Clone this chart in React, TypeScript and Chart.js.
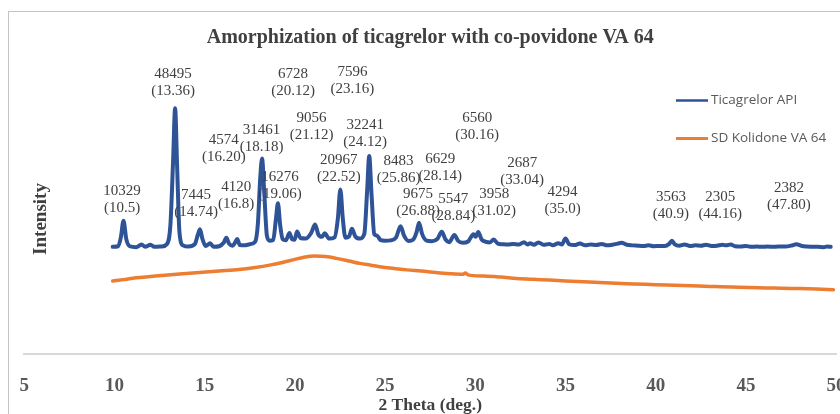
import { useEffect, useRef } from "react";
import { Chart, registerables } from "chart.js";

Chart.register(...registerables);

const TITLE = "Amorphization of ticagrelor with co-povidone VA 64";
const X_TITLE = "2 Theta (deg.)";
const Y_TITLE = "Intensity";
const SERIES_NAMES = ["Ticagrelor API", "SD Kolidone VA 64"];
const X_MIN = 5;
const X_MAX = 50;
const X_STEP = 5;

// Ticagrelor API diffractogram: 2θ (deg.) and counts
const API_ANGLES = [
  9.9, 10.2, 10.35, 10.5, 10.65, 10.85, 11.2, 11.5, 11.7, 12.0, 12.2, 12.6, 12.9, 13.1, 13.25, 13.36,
  13.47, 13.6, 13.8, 14.1, 14.45, 14.62, 14.74, 14.87, 15.05, 15.3, 15.5, 15.8, 16.05, 16.2, 16.35,
  16.55, 16.68, 16.8, 16.95, 17.2, 17.5, 17.8, 17.95, 18.08, 18.18, 18.3, 18.45, 18.6, 18.8, 18.95,
  19.06, 19.18, 19.32, 19.5, 19.7, 19.85, 19.98, 20.12, 20.3, 20.6, 20.9, 21.12, 21.3, 21.5, 21.65,
  21.9, 22.2, 22.38, 22.52, 22.65, 22.8, 23.0, 23.16, 23.35, 23.6, 23.85, 24.0, 24.12, 24.25, 24.4,
  24.55, 24.75, 25.0, 25.3, 25.6, 25.86, 26.05, 26.3, 26.55, 26.75, 26.88, 27.05, 27.3, 27.6, 27.9,
  28.14, 28.35, 28.55, 28.84, 29.05, 29.3, 29.6, 29.9, 30.02, 30.16, 30.35, 30.6, 30.8, 31.02, 31.25,
  31.5, 31.8, 32.1, 32.4, 32.7, 32.9, 33.04, 33.25, 33.5, 33.8, 34.1, 34.3, 34.6, 34.8, 35.0, 35.2,
  35.5, 35.8, 36.1, 36.4, 36.7, 37.0, 37.3, 37.6, 37.9, 38.1, 38.4, 38.7, 39.0, 39.3, 39.6, 39.9,
  40.2, 40.5, 40.75, 40.9, 41.05, 41.3, 41.6, 41.9, 42.2, 42.5, 42.8, 43.1, 43.4, 43.7, 43.9, 44.16,
  44.4, 44.7, 45.0, 45.3, 45.6, 45.9, 46.2, 46.5, 46.8, 47.2, 47.5, 47.8, 48.1, 48.4, 48.7, 49.0,
  49.3, 49.5, 49.7,
];
const API_COUNTS = [
  1500, 1700, 4600, 10329, 4200, 1700, 1400, 2300, 1500, 2200, 1500, 1600, 2400, 9000, 31000, 48495,
  29000, 6500, 2000, 1600, 2400, 5600, 7445, 4300, 1800, 2700, 1500, 1700, 2900, 4574, 2600,
  1900, 2900, 4120, 2100, 2000, 2400, 3300, 9500, 25000, 31461, 20000, 5200, 3600, 3900, 11000,
  16276, 9000, 4100, 3700, 6200, 4000, 3900, 6728, 4500, 4300, 6200, 9056, 5700, 4900, 6100,
  4300, 4700, 11000, 20967, 11500, 4600, 5000, 7596, 5000, 4300, 6000, 20000, 32241, 19000, 5800,
  5300, 3800, 3600, 3700, 4600, 8483, 5300, 3500, 3900, 6600, 9675, 5900, 3600, 3400, 4200,
  6629, 4000, 3100, 5547, 3500, 2900, 3300, 5800, 4900, 6560, 4000, 3200, 3000, 3958, 2600,
  2400, 2300, 2500, 2300, 3100, 2300, 2687, 2200, 3000, 2200, 2500, 2000, 2700, 2300, 4294, 2400,
  2100, 2600, 2000, 2300, 2100, 2500, 2000, 2200, 2600, 2900, 2200, 2000, 1900, 1800, 2000, 1700,
  1800, 1800, 2500, 3563, 2400, 1900, 2300, 1800, 2000, 1900, 2200, 1800, 1900, 2200, 2000, 2305,
  1700, 1600, 1800, 1500, 1600, 1500, 1600, 1500, 1600, 1600, 1900, 2382, 1800, 1600, 1500, 1500,
  1400, 1600, 1500,
];

// SD Kolidone VA 64 (amorphous halo): 2θ (deg.) and counts, drawn with a downward offset
const KOL_ANGLES = [
  9.9, 10.5, 11.2, 12.0, 12.8, 13.6, 14.7, 15.8, 16.9, 17.8, 18.6, 19.3, 19.9, 20.5, 21.1, 21.7,
  22.3, 23.0, 23.6, 24.2, 24.8, 25.5, 26.2, 27.0, 27.8, 28.6, 29.3, 29.45, 29.6, 30.5, 31.4, 32.3,
  33.2, 34.1, 35.0, 36.0, 36.9, 37.8, 38.8, 39.7, 40.6, 41.5, 42.4, 43.3, 44.2, 45.2, 46.1, 47.0,
  48.0, 48.9, 49.85,
];
const KOL_COUNTS = [
  4400, 4900, 5500, 5950, 6400, 6800, 7300, 7800, 8300, 9000, 9800, 10700, 11600, 12500, 12900, 12700,
  12100, 11200, 10400, 9800, 9200, 8700, 8200, 7800, 7300, 6900, 6700, 7100, 6500, 6100, 5750, 5300,
  5000, 4750, 4450, 4150, 3900, 3650, 3450, 3250, 3050, 2900, 2700, 2550, 2400, 2200, 2100, 1950,
  1850, 1700, 1500,
];
const KOL_OFFSET = -14500;

// Labelled API reflections: 2θ text and peak counts
const PEAK_ANGLES = [
  "10.5", "13.36", "14.74", "16.20", "16.8", "18.18", "19.06", "20.12", "21.12", "22.52", "23.16",
  "24.12", "25.86", "26.88", "28.14", "28.84", "30.16", "31.02", "33.04", "35.0", "40.9", "44.16", "47.80",
];
const PEAK_COUNTS = [
  10329, 48495, 7445, 4574, 4120, 31461, 16276, 6728, 9056, 20967, 7596,
  32241, 8483, 9675, 6629, 5547, 6560, 3958, 2687, 4294, 3563, 2305, 2382,
];

const Y_MIN = -34800;
const Y_MAX = 64800;

// Label placement: horizontal shift from the peak (px) and top-line centre (px)
const LABEL_PLACEMENT: [number, number][] = [
  [-1.5, 191], [-2, 74], [-4, 195], [-2.5, 140], [-1, 187], [-0.5, 130], [2, 177], [-4, 74],
  [-3.5, 118.5], [-1.5, 160], [0.5, 72], [-4, 125], [-2, 161], [-1, 194], [-1.5, 159.5],
  [-1, 199.5], [-1, 118.5], [0.5, 194.5], [-8, 163.5], [-3, 192], [-1, 197.5], [-10.5, 197.5],
  [-7.5, 188.5],
];

const BLUE = "#2E5397";
const ORANGE = "#ED7D31";
const SERIF = "'Liberation Serif', 'Times New Roman', serif";
const SANS = "'Open Sans', 'Noto Sans', sans-serif";

const overlayPlugin = {
  id: "overlay",
  afterDraw(chart: any) {
    const { ctx, scales } = chart;
    const xs = scales.x;
    ctx.save();

    // peak annotations
    ctx.font = `15px ${SERIF}`;
    ctx.fillStyle = "#404040";
    ctx.textAlign = "center";
    ctx.textBaseline = "middle";
    PEAK_ANGLES.forEach((a, i) => {
      const [dx, y] = LABEL_PLACEMENT[i];
      const x = xs.getPixelForValue(parseFloat(a)) + dx;
      ctx.fillText(String(PEAK_COUNTS[i]), x, y);
      ctx.fillText(`(${a})`, x, y + 17);
    });

    // y axis title
    ctx.save();
    ctx.translate(41, 219);
    ctx.rotate(-Math.PI / 2);
    ctx.font = `bold 19px ${SERIF}`;
    ctx.fillStyle = "#404040";
    ctx.fillText(Y_TITLE, 0, 0);
    ctx.restore();

    // legend
    const rows = [
      { y: 100.5, color: BLUE, width: 2.5 },
      { y: 138.5, color: ORANGE, width: 3 },
    ];
    ctx.font = `13.5px ${SANS}`;
    ctx.textAlign = "left";
    ctx.textBaseline = "middle";
    rows.forEach((r, i) => {
      ctx.strokeStyle = r.color;
      ctx.lineWidth = r.width;
      ctx.beginPath();
      ctx.moveTo(676, r.y);
      ctx.lineTo(708, r.y);
      ctx.stroke();
      ctx.fillStyle = "#595959";
      ctx.fillText(SERIES_NAMES[i], 711, r.y);
    });
    ctx.restore();
  },
};

export default function App() {
  const canvasRef = useRef<HTMLCanvasElement>(null);

  useEffect(() => {
    const canvas = canvasRef.current;
    if (!canvas) return;
    const apiData = API_ANGLES.map((x, i) => ({ x, y: API_COUNTS[i] }));
    const kolData = KOL_ANGLES.map((x, i) => ({ x, y: KOL_COUNTS[i] + KOL_OFFSET }));

    const chart = new Chart(canvas, {
      type: "line",
      data: {
        datasets: [
          {
            label: SERIES_NAMES[0],
            data: apiData,
            borderColor: BLUE,
            borderWidth: 4,
            pointRadius: 0,
            cubicInterpolationMode: "monotone",
            borderJoinStyle: "round",
            borderCapStyle: "round",
            fill: false,
          },
          {
            label: SERIES_NAMES[1],
            data: kolData,
            borderColor: ORANGE,
            borderWidth: 3.5,
            pointRadius: 0,
            cubicInterpolationMode: "monotone",
            borderJoinStyle: "round",
            borderCapStyle: "round",
            fill: false,
          },
        ],
      },
      options: {
        animation: false,
        responsive: false,
        devicePixelRatio: 1,
        layout: { padding: { left: 24.3, right: 3.9, top: 0, bottom: 0 } },
        plugins: {
          legend: { display: false },
          tooltip: { enabled: false },
          title: {
            display: true,
            text: TITLE,
            color: "#404040",
            font: { family: SERIF, size: 20, weight: "bold", lineHeight: 1.2 },
            padding: { top: 26, bottom: 10 },
          },
        },
        scales: {
          x: {
            type: "linear",
            min: X_MIN,
            max: X_MAX,
            afterFit: (s: any) => {
              s.paddingLeft = 0;
              s.paddingRight = 0;
              s.height = 60;
            },
            ticks: {
              stepSize: X_STEP,
              padding: 21,
              color: "#595959",
              font: { family: SERIF, size: 19, weight: "bold" },
              maxRotation: 0,
              autoSkip: false,
            },
            grid: { display: false, drawTicks: false },
            border: { display: true, color: "#d9d9d9", width: 2 },
            title: {
              display: true,
              text: X_TITLE,
              color: "#404040",
              font: { family: SERIF, size: 17.5, weight: "bold", lineHeight: 1 },
              padding: { top: 1, bottom: 0 },
            },
          },
          y: { display: false, min: Y_MIN, max: Y_MAX },
        },
      },
      plugins: [overlayPlugin],
    } as any);

    return () => chart.destroy();
  }, []);

  return (
    <div style={{ position: "absolute", left: 0, top: 0, width: 840, height: 414, overflow: "hidden", background: "#fff" }}>
      <div
        style={{
          position: "absolute",
          left: 8,
          top: 11,
          width: 1000,
          height: 1000,
          border: "1px solid #c4c4c4",
        }}
      />
      <canvas ref={canvasRef} width={840} height={414} style={{ position: "absolute", left: 0, top: 0, display: "block" }} />
    </div>
  );
}
